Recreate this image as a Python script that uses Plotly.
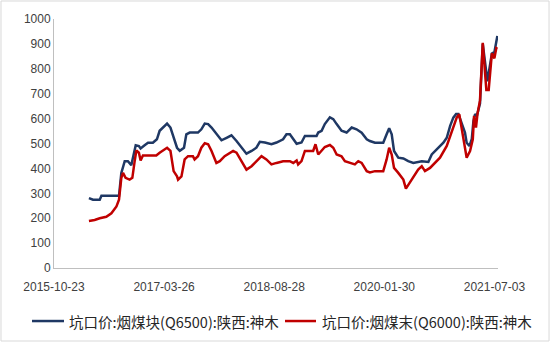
import plotly.graph_objects as go

# Blue series: 坑口价:烟煤块(Q6500):陕西:神木
blue_dates = [
    "2016-04-05", "2016-04-24", "2016-05-26", "2016-06-03", "2016-08-25", "2016-09-05",
    "2016-09-21", "2016-10-06", "2016-10-22", "2016-11-02", "2016-11-12", "2016-11-27",
    "2016-12-05", "2016-12-24", "2017-01-09", "2017-02-01", "2017-02-20", "2017-03-05",
    "2017-03-21", "2017-04-09", "2017-04-25", "2017-05-10", "2017-05-26", "2017-06-08",
    "2017-06-28", "2017-07-09", "2017-07-25", "2017-09-02", "2017-09-18", "2017-10-04",
    "2017-10-20", "2017-11-05", "2017-11-28", "2017-12-22", "2018-01-15", "2018-02-07",
    "2018-03-03", "2018-03-27", "2018-04-19", "2018-05-13", "2018-06-05", "2018-06-21",
    "2018-07-15", "2018-08-15", "2018-09-08", "2018-10-09", "2018-10-25", "2018-11-10",
    "2018-11-26", "2018-12-12", "2019-01-04", "2019-01-20", "2019-03-16", "2019-03-24",
    "2019-04-09", "2019-04-24", "2019-05-18", "2019-06-03", "2019-06-19", "2019-07-12",
    "2019-08-05", "2019-08-29", "2019-09-21", "2019-10-15", "2019-11-08", "2019-11-23",
    "2019-12-17", "2020-01-25", "2020-02-10", "2020-02-22", "2020-03-05", "2020-03-16",
    "2020-04-05", "2020-04-29", "2020-05-22", "2020-06-15", "2020-07-25", "2020-08-25",
    "2020-09-10", "2020-09-26", "2020-10-19", "2020-11-04", "2020-11-20", "2020-12-06",
    "2020-12-21", "2021-01-03", "2021-01-14", "2021-01-30", "2021-02-14", "2021-02-22",
    "2021-03-07", "2021-03-18", "2021-03-26", "2021-04-03", "2021-04-11", "2021-04-26",
    "2021-05-09", "2021-05-31", "2021-06-21", "2021-07-03", "2021-07-17",
]
blue_values = [
    281, 274, 274, 290, 290, 382,
    429, 429, 413, 456, 493, 490,
    480, 493, 503, 503, 517, 551,
    564, 580, 564, 523, 483, 471,
    483, 537, 544, 544, 557, 580,
    578, 564, 537, 513, 523, 533,
    510, 483, 459, 470, 483, 507,
    504, 497, 504, 517, 537, 537,
    517, 499, 504, 530, 530, 544,
    551, 578, 605, 598, 578, 551,
    544, 564, 557, 543, 517, 510,
    503, 503, 537, 561, 537, 470,
    443, 440, 429, 422, 429, 426,
    456, 470, 490, 503, 523, 571,
    604, 618, 618, 584, 544, 503,
    490, 517, 591, 618, 611, 660,
    900, 750, 861, 867, 932,
]

# Red series: 坑口价:烟煤末(Q6000):陕西:神木
red_dates = [
    "2016-04-05", "2016-05-02", "2016-05-26", "2016-06-26", "2016-07-20", "2016-08-13",
    "2016-08-25", "2016-09-05", "2016-09-13", "2016-09-25", "2016-10-14", "2016-10-27",
    "2016-11-07", "2016-11-15", "2016-11-27", "2016-12-05", "2016-12-16", "2017-02-17",
    "2017-03-05", "2017-03-21", "2017-04-09", "2017-04-25", "2017-05-10", "2017-05-26",
    "2017-05-31", "2017-06-16", "2017-07-01", "2017-07-17", "2017-08-09", "2017-08-17",
    "2017-09-02", "2017-09-18", "2017-10-04", "2017-10-20", "2017-11-05", "2017-11-28",
    "2017-12-14", "2018-01-06", "2018-01-30", "2018-02-15", "2018-03-03", "2018-03-27",
    "2018-04-19", "2018-05-13", "2018-06-05", "2018-06-29", "2018-07-22", "2018-08-15",
    "2018-09-08", "2018-10-09", "2018-11-10", "2018-11-26", "2018-12-12", "2018-12-19",
    "2019-01-04", "2019-01-20", "2019-02-28", "2019-03-11", "2019-03-24", "2019-04-09",
    "2019-04-24", "2019-05-18", "2019-06-03", "2019-06-19", "2019-07-12", "2019-07-28",
    "2019-08-21", "2019-09-13", "2019-09-29", "2019-10-15", "2019-11-08", "2019-11-23",
    "2019-12-17", "2020-01-25", "2020-02-10", "2020-02-22", "2020-03-05", "2020-03-16",
    "2020-04-05", "2020-04-29", "2020-05-11", "2020-05-27", "2020-06-15", "2020-07-08",
    "2020-07-25", "2020-08-09", "2020-09-02", "2020-09-26", "2020-10-19", "2020-11-20",
    "2020-12-13", "2021-01-06", "2021-01-18", "2021-01-30", "2021-02-14", "2021-02-22",
    "2021-03-10", "2021-03-23", "2021-03-29", "2021-04-07", "2021-04-14", "2021-04-26",
    "2021-05-09", "2021-05-26", "2021-06-06", "2021-06-21", "2021-07-03", "2021-07-12",
    "2021-07-17",
]
red_values = [
    189, 193, 200, 206, 220, 247,
    274, 362, 382, 362, 355, 362,
    429, 472, 463, 432, 452, 452,
    463, 472, 483, 470, 389, 368,
    355, 368, 436, 449, 449, 436,
    449, 483, 501, 497, 470, 422,
    429, 449, 463, 470, 463, 429,
    395, 409, 429, 449, 436, 416,
    422, 429, 429, 422, 432, 416,
    429, 470, 470, 497, 456, 470,
    486, 494, 483, 456, 449, 429,
    422, 416, 429, 422, 389, 384,
    389, 389, 436, 483, 456, 402,
    382, 355, 319, 341, 368, 395,
    409, 389, 402, 422, 443, 490,
    544, 604, 618, 557, 476, 443,
    470, 517, 611, 564, 618, 673,
    904, 715, 715, 862, 842, 883,
    880,
]

tick_vals = ["2015-10-23", "2017-03-26", "2018-08-28", "2020-01-30", "2021-07-03"]
y_ticks = [0, 100, 200, 300, 400, 500, 600, 700, 800, 900, 1000]

name_blue = "坑口价:烟煤块(Q6500):陕西:神木"
name_red = "坑口价:烟煤末(Q6000):陕西:神木"
color_blue = "#1F3864"
color_red = "#C00000"

fig = go.Figure()
fig.add_trace(go.Scatter(x=blue_dates, y=blue_values, mode="lines", name=name_blue,
                         line=dict(color=color_blue, width=2.5)))
fig.add_trace(go.Scatter(x=red_dates, y=red_values, mode="lines", name=name_red,
                         line=dict(color=color_red, width=2.5)))

tick_font = dict(family="Liberation Sans, Arial, sans-serif", size=12, color="#404040")
legend_font = dict(family="Noto Sans CJK SC, sans-serif", size=14.5, color="#262626")

# manual single-row legend below the plot (paper coordinates)
leg_y = -0.213
legend_shapes = [
    dict(type="line", xref="paper", yref="paper", x0=-0.0495, x1=0.0225, y0=leg_y, y1=leg_y,
         line=dict(color=color_blue, width=2.5)),
    dict(type="line", xref="paper", yref="paper", x0=0.5203, x1=0.5901, y0=leg_y, y1=leg_y,
         line=dict(color=color_red, width=2.5)),
]
legend_annotations = [
    dict(text=name_blue, xref="paper", yref="paper", x=0.0293, y=leg_y, xanchor="left",
         yanchor="middle", showarrow=False, font=legend_font),
    dict(text=name_red, xref="paper", yref="paper", x=0.5991, y=leg_y, xanchor="left",
         yanchor="middle", showarrow=False, font=legend_font),
]

border = dict(type="rect", xref="paper", yref="paper",
              x0=-0.1194, x1=1.1149, y0=-0.2932, y1=1.0723,
              line=dict(color="#D9D9D9", width=1), fillcolor="rgba(0,0,0,0)", layer="below")

fig.update_layout(
    width=550, height=342,
    margin=dict(l=54, r=52, t=19, b=74),
    paper_bgcolor="white", plot_bgcolor="white",
    showlegend=False,
    xaxis=dict(type="date", range=["2015-10-23", "2021-07-20"],
               tickvals=tick_vals, ticktext=tick_vals, tickfont=tick_font,
               ticklabelstandoff=8,
               showgrid=False, zeroline=False, showline=True, linecolor="#BFBFBF",
               linewidth=1, ticks=""),
    yaxis=dict(range=[0, 1000], tickvals=y_ticks, tickfont=tick_font,
               showgrid=False, zeroline=False, showline=True, linecolor="#BFBFBF",
               linewidth=1, ticks=""),
    shapes=[border] + legend_shapes,
    annotations=legend_annotations,
)

fig.write_html("out.html")
